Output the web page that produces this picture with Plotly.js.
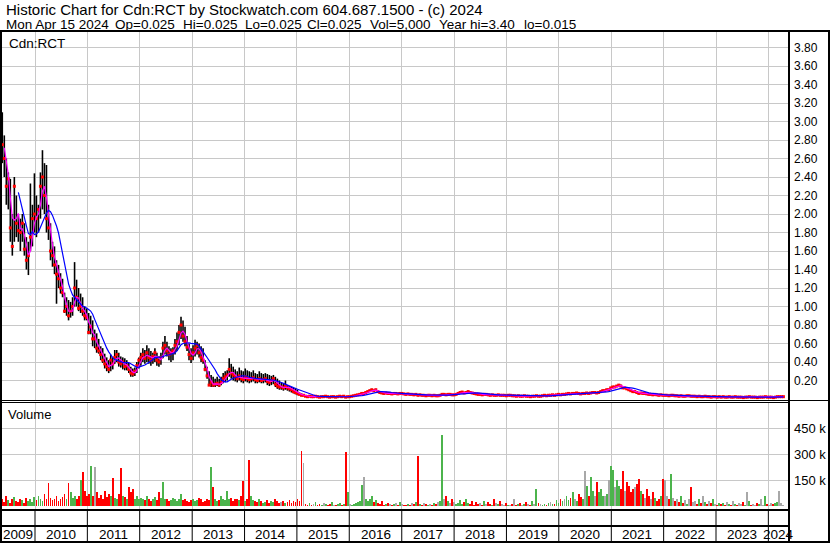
<!DOCTYPE html>
<html>
<head>
<meta charset="utf-8">
<script src="https://cdn.plot.ly/plotly-3.0.1.min.js"></script>
<style>
  html, body { margin: 0; padding: 0; background: #fff; }
  #chart { width: 830px; height: 543px; }
  #chart .barlayer path { shape-rendering: crispEdges; }
</style>
</head>
<body>
<div id="chart"></div>
<script>
// ---------- DATA (bi-weekly bars, first bar 2009-05-04, last bar 2024-04-15) ----------
const firstBar = '2009-05-04';
const years = [2009,2010,2011,2012,2013,2014,2015,2016,2017,2018,2019,2020,2021,2022,2023,2024];

const hi = [
 3.30,3.10,2.85,2.60,2.45,2.38,2.00,2.40,2.20,2.00,
 1.95,2.00,1.90,1.75,1.70,2.33,2.10,2.44,2.20,2.10,
 2.45,2.69,2.55,2.53,2.10,1.90,1.70,1.65,1.50,1.45,
 1.36,1.30,1.15,1.10,1.07,1.05,1.10,1.48,1.29,1.20,
 1.14,1.10,1.00,0.98,0.93,0.90,0.85,0.75,0.71,0.65,
 0.57,0.55,0.49,0.45,0.42,0.48,0.45,0.53,0.53,0.50,
 0.46,0.45,0.44,0.42,0.39,0.35,0.33,0.34,0.40,0.45,
 0.50,0.55,0.53,0.58,0.55,0.52,0.50,0.55,0.50,0.46,
 0.50,0.62,0.68,0.62,0.57,0.55,0.56,0.65,0.72,0.80,
 0.89,0.85,0.78,0.68,0.60,0.55,0.58,0.64,0.62,0.60,
 0.57,0.55,0.42,0.35,0.30,0.26,0.24,0.22,0.24,0.22,
 0.24,0.28,0.30,0.31,0.44,0.38,0.35,0.32,0.30,0.34,
 0.31,0.30,0.33,0.31,0.30,0.29,0.31,0.28,0.27,0.30,
 0.28,0.27,0.28,0.27,0.26,0.25,0.26,0.24,0.22,0.20,
 0.18,0.17,0.20,0.15,0.14,0.13,0.12,0.12,0.10,
 0.07,0.06,0.05,0.04,0.035,0.04,0.035,0.03,0.04,0.035,
 0.03,0.03,0.035,0.035,0.03,0.03,0.03,0.035,0.025,0.03,
 0.035,0.03,0.035,0.03,0.03,0.03,0.035,
 0.04,0.045,0.05,0.06,0.07,0.065,0.08,0.09,0.1,0.11,
 0.1,0.11,0.095,0.08,0.075,0.07,0.07,0.07,0.065,0.06,
 0.065,0.07,0.06,0.065,0.065,0.06,
 0.055,0.06,0.055,0.055,0.05,0.055,0.05,0.05,0.045,0.045,
 0.04,0.045,0.045,0.04,0.045,0.04,0.04,0.045,0.06,0.055,
 0.05,0.055,0.055,0.05,0.05,0.055,
 0.07,0.08,0.085,0.075,0.08,0.09,0.08,0.07,0.065,0.06,
 0.055,0.055,0.05,0.055,0.055,0.05,0.045,0.05,0.045,0.045,
 0.05,0.045,0.045,0.045,0.04,0.045,
 0.045,0.04,0.04,0.035,0.04,0.035,0.035,0.04,0.035,0.035,
 0.03,0.035,0.035,0.04,0.035,0.035,0.04,0.045,0.04,0.045,
 0.045,0.05,0.045,0.05,0.055,0.05,0.055,
 0.055,0.06,0.065,0.06,0.065,0.065,0.07,0.065,0.06,0.065,
 0.065,0.07,0.065,0.07,0.075,0.075,0.07,0.075,0.09,0.1,
 0.1,0.11,0.11,0.13,0.14,0.14,0.15,0.16,0.155,0.14,
 0.13,0.12,0.11,0.1,0.09,
 0.09,0.08,0.07,0.07,0.065,0.065,0.06,0.055,0.055,0.05,0.055,0.05,0.045,0.05,0.045,0.045,
 0.045,0.04,0.045,0.045,0.04,0.04,0.035,0.04,0.035,0.035,
 0.04,0.04,0.035,0.035,0.035,0.03,0.035,0.03,0.03,0.035,
 0.03,0.03,0.025,0.03,0.03,0.025,0.03,
 0.025,0.03,0.025,0.025,0.03,0.025,0.025,0.03,0.025,0.025,
 0.025,0.02,0.025,0.025,0.03,0.025,0.025,0.025,0.02,0.025,
 0.025,0.025,0.03,0.025,0.025,0.025,0.02,0.025,0.03,0.03,
 0.03,0.025
];

const lo = [
 2.72,2.55,2.40,2.10,2.05,1.70,1.55,1.70,1.75,1.70,
 1.60,1.70,1.55,1.40,1.34,1.60,1.65,1.80,1.75,1.80,
 1.95,2.05,2.00,1.80,1.72,1.50,1.43,1.35,1.03,1.20,
 1.14,1.10,0.93,0.90,0.85,0.88,0.90,1.00,1.00,0.95,
 0.93,0.90,0.85,0.85,0.70,0.70,0.57,0.55,0.50,0.49,
 0.42,0.39,0.33,0.30,0.28,0.30,0.32,0.38,0.40,0.35,
 0.34,0.32,0.31,0.31,0.28,0.24,0.24,0.25,0.28,0.33,
 0.36,0.40,0.38,0.40,0.38,0.36,0.38,0.40,0.36,0.35,
 0.37,0.44,0.48,0.46,0.42,0.40,0.42,0.48,0.52,0.58,
 0.65,0.62,0.57,0.52,0.42,0.39,0.42,0.46,0.48,0.45,
 0.40,0.38,0.30,0.22,0.15,0.13,0.13,0.13,0.14,0.13,
 0.15,0.17,0.18,0.20,0.24,0.22,0.20,0.19,0.18,0.20,
 0.18,0.17,0.19,0.18,0.17,0.18,0.19,0.17,0.17,0.18,
 0.17,0.17,0.18,0.15,0.14,0.15,0.16,0.13,0.11,0.10,
 0.10,0.09,0.10,0.09,0.08,0.07,0.06,0.05,0.04,
 0.04,0.03,0.03,0.025,0.02,0.025,0.02,0.02,0.025,0.02,
 0.015,0.02,0.02,0.025,0.02,0.015,0.02,0.02,0.015,0.02,
 0.025,0.02,0.025,0.015,0.02,0.02,0.025,
 0.03,0.035,0.04,0.045,0.05,0.055,0.06,0.07,0.08,0.09,
 0.08,0.09,0.075,0.065,0.06,0.055,0.06,0.055,0.055,0.05,
 0.055,0.055,0.05,0.055,0.055,0.05,
 0.045,0.05,0.045,0.045,0.04,0.045,0.035,0.04,0.035,0.035,
 0.03,0.035,0.035,0.03,0.035,0.03,0.03,0.035,0.04,0.045,
 0.04,0.045,0.045,0.04,0.04,0.045,
 0.05,0.06,0.065,0.06,0.065,0.07,0.065,0.06,0.055,0.05,
 0.045,0.045,0.04,0.045,0.045,0.04,0.035,0.04,0.035,0.035,
 0.04,0.035,0.035,0.035,0.03,0.035,
 0.035,0.03,0.03,0.025,0.03,0.025,0.025,0.03,0.025,0.025,
 0.02,0.025,0.025,0.03,0.025,0.025,0.03,0.035,0.03,0.035,
 0.035,0.04,0.035,0.04,0.045,0.04,0.045,
 0.045,0.05,0.055,0.05,0.055,0.055,0.06,0.055,0.05,0.055,
 0.055,0.06,0.055,0.06,0.065,0.065,0.06,0.065,0.07,0.08,
 0.08,0.09,0.09,0.1,0.12,0.12,0.13,0.14,0.13,0.11,
 0.11,0.1,0.09,0.08,0.07,
 0.07,0.06,0.055,0.06,0.055,0.055,0.05,0.045,0.045,0.04,0.045,0.04,0.035,0.04,0.035,0.035,
 0.035,0.03,0.035,0.035,0.03,0.03,0.025,0.03,0.025,0.025,
 0.03,0.03,0.025,0.025,0.025,0.02,0.025,0.02,0.02,0.025,
 0.02,0.02,0.015,0.02,0.02,0.015,0.02,
 0.015,0.02,0.015,0.015,0.02,0.015,0.015,0.02,0.015,0.015,
 0.015,0.015,0.015,0.015,0.02,0.015,0.015,0.015,0.015,0.015,
 0.015,0.015,0.02,0.015,0.015,0.015,0.015,0.015,0.02,0.02,
 0.02,0.025
];

const cl = [
 2.80,2.75,2.60,2.30,2.38,1.85,1.65,2.30,1.90,1.82,
 1.80,1.90,1.62,1.50,1.55,1.75,1.95,2.00,1.95,2.05,
 2.30,2.40,2.20,1.95,1.85,1.60,1.55,1.45,1.35,1.30,
 1.20,1.15,0.95,1.00,0.90,0.95,1.00,1.20,1.10,0.98,
 1.00,0.95,0.90,0.88,0.72,0.78,0.65,0.65,0.55,0.52,
 0.48,0.42,0.38,0.35,0.32,0.42,0.38,0.45,0.48,0.40,
 0.38,0.40,0.35,0.36,0.32,0.28,0.27,0.30,0.36,0.42,
 0.45,0.48,0.44,0.50,0.45,0.42,0.46,0.50,0.42,0.40,
 0.45,0.55,0.58,0.52,0.48,0.50,0.52,0.58,0.62,0.72,
 0.80,0.68,0.62,0.56,0.48,0.44,0.50,0.55,0.58,0.50,
 0.45,0.42,0.32,0.25,0.15,0.18,0.15,0.16,0.17,0.15,
 0.18,0.22,0.24,0.26,0.32,0.28,0.26,0.24,0.22,0.25,
 0.22,0.21,0.24,0.22,0.21,0.22,0.23,0.21,0.20,0.22,
 0.20,0.21,0.22,0.19,0.18,0.20,0.22,0.16,0.14,0.13,
 0.13,0.12,0.14,0.12,0.11,0.10,0.08,0.07,0.06,
 0.05,0.04,0.04,0.03,0.025,0.03,0.025,0.025,0.03,0.025,
 0.02,0.025,0.025,0.03,0.025,0.02,0.025,0.025,0.02,0.025,
 0.03,0.025,0.03,0.02,0.025,0.025,0.03,
 0.035,0.04,0.045,0.05,0.06,0.06,0.07,0.08,0.09,0.1,
 0.09,0.1,0.08,0.07,0.065,0.06,0.065,0.06,0.06,0.055,
 0.06,0.06,0.055,0.06,0.06,0.055,
 0.05,0.055,0.05,0.05,0.045,0.05,0.04,0.045,0.04,0.04,
 0.035,0.04,0.04,0.035,0.04,0.035,0.035,0.04,0.05,0.05,
 0.045,0.05,0.05,0.045,0.045,0.05,
 0.06,0.07,0.075,0.065,0.07,0.08,0.07,0.065,0.06,0.055,
 0.05,0.05,0.045,0.05,0.05,0.045,0.04,0.045,0.04,0.04,
 0.045,0.04,0.04,0.04,0.035,0.04,
 0.04,0.035,0.035,0.03,0.035,0.03,0.03,0.035,0.03,0.03,
 0.025,0.03,0.03,0.035,0.03,0.03,0.035,0.04,0.035,0.04,
 0.04,0.045,0.04,0.045,0.05,0.045,0.05,
 0.05,0.055,0.06,0.055,0.06,0.06,0.065,0.06,0.055,0.06,
 0.06,0.065,0.06,0.065,0.07,0.07,0.065,0.07,0.08,0.09,
 0.09,0.1,0.1,0.12,0.13,0.13,0.14,0.15,0.14,0.12,
 0.12,0.11,0.1,0.09,0.08,
 0.08,0.07,0.06,0.065,0.06,0.06,0.055,0.05,0.05,0.045,0.05,0.045,0.04,0.045,0.04,0.04,
 0.04,0.035,0.04,0.04,0.035,0.035,0.03,0.035,0.03,0.03,
 0.035,0.035,0.03,0.03,0.03,0.025,0.03,0.025,0.025,0.03,
 0.025,0.025,0.02,0.025,0.025,0.02,0.025,
 0.02,0.025,0.02,0.02,0.025,0.02,0.02,0.025,0.02,0.02,
 0.02,0.015,0.02,0.02,0.025,0.02,0.02,0.02,0.015,0.02,
 0.02,0.02,0.025,0.02,0.02,0.02,0.015,0.02,0.025,0.025,
 0.025,0.025
];

// volume in thousands of shares
const volK = [
 30,45,25,60,35,20,40,55,30,25,
 45,35,20,50,30,40,25,55,35,60,
 45,30,70,40,133,50,35,45,60,30,
 40,55,70,45,133,80,50,60,45,60,
 150,200,90,60,70,233,60,229,80,50,
 65,40,90,55,70,60,161,50,45,70,
 223,60,55,40,110,80,100,45,60,40,
 50,40,35,60,45,30,40,55,35,85,
 50,138,45,40,30,35,50,40,30,45,
 70,35,40,30,25,35,40,30,35,50,
 45,25,30,40,35,229,110,45,30,35,
 60,40,35,90,45,50,30,40,40,35,
 60,146,30,40,267,60,35,30,25,40,
 30,20,25,35,20,30,25,40,30,20,
 25,30,20,25,35,20,30,25,40,
 30,320,248,15,10,20,8,12,25,10,
 15,8,20,12,10,15,25,10,8,12,
 20,10,15,311,85,15,10,
 15,20,25,30,123,169,40,30,40,60,
 25,35,20,15,30,10,15,20,12,8,
 15,20,10,25,12,10,
 10,15,8,20,12,25,290,15,10,20,
 12,8,15,10,20,12,25,30,411,40,
 60,30,20,45,25,15,
 20,35,15,25,40,20,15,30,10,25,
 15,20,8,30,12,25,15,10,40,20,
 12,30,15,10,20,8,
 10,15,40,8,12,20,10,15,25,12,
 8,30,15,100,20,12,8,15,10,20,
 25,12,15,35,20,45,30,
 40,60,35,50,80,45,30,70,55,40,
 204,120,60,171,90,60,142,80,100,60,
 60,70,150,235,210,110,150,120,100,204,
 90,140,120,80,100,
 110,130,160,90,70,50,100,60,40,80,50,30,45,60,160,150,
 60,40,185,50,30,45,25,60,20,35,
 15,40,110,25,30,15,40,20,60,25,
 15,30,20,45,15,10,20,
 15,20,10,25,12,8,30,15,10,20,
 12,25,8,85,30,10,12,8,20,15,
 40,10,62,12,8,20,15,20,25,88,
 20,10
];

const priceTicks = [0.2,0.4,0.6,0.8,1.0,1.2,1.4,1.6,1.8,2.0,2.2,2.4,2.6,2.8,3.0,3.2,3.4,3.6,3.8];
const volTicks = [150,300,450];
const volTickText = ['150 k','300 k','450 k'];

const titleLine1 = 'Historic Chart for Cdn:RCT by Stockwatch.com 604.687.1500 - (c) 2024';
const quoteFields = ['Mon Apr 15 2024','Op=0.025','Hi=0.025','Lo=0.025','Cl=0.025','Vol=5,000','Year hi=3.40','lo=0.015'];
const symbolLabel = 'Cdn:RCT';
const volumeLabel = 'Volume';

// ---------- BUILD ----------
const N = cl.length;
if (hi.length !== N || lo.length !== N || volK.length !== N) {
  document.body.insertAdjacentHTML('afterbegin',
    '<pre>length mismatch hi=' + hi.length + ' lo=' + lo.length + ' cl=' + N + ' vol=' + volK.length + '</pre>');
}

const DAY = 864e5;
const t0 = Date.parse(firstBar + 'T00:00:00Z');
const dates = cl.map((_, i) => new Date(t0 + i * 14 * DAY).toISOString().slice(0, 10));

function movingAverage(arr, n) {
  return arr.map((_, i) => {
    if (i < n - 1) return null;
    let s = 0;
    for (let k = i - n + 1; k <= i; k++) s += arr[k];
    return s / n;
  });
}
const maFast = movingAverage(cl, 3);   // ~6 weeks
const maSlow = movingAverage(cl, 10);  // ~20 weeks

const barX = [], barY = [];
for (let i = 0; i < N; i++) {
  barX.push(dates[i], dates[i], null);
  barY.push(lo[i], hi[i], null);
}

const volColors = cl.map((c, i) => {
  if (i === 0 || c === cl[i - 1]) return '#a8a8a8';
  return c > cl[i - 1] ? '#4cb44c' : '#ff0000';
});

const W = 830, H = 543;
const px = x => x / W;
const py = y => 1 - y / H;

const xStart = '2009-05-02', xEnd = '2024-05-17';
const yearStarts = years.slice(1).map(y => y + '-01-01');

const FONT = 'Liberation Sans, Arial, sans-serif';
const GRID = '#c8c8c8';

const traces = [
  { type: 'scatter', mode: 'lines', x: barX, y: barY, xaxis: 'x', yaxis: 'y',
    line: { color: '#000000', width: 1.6 }, hoverinfo: 'skip', connectgaps: false },
  { type: 'scatter', mode: 'markers', x: dates, y: cl, xaxis: 'x', yaxis: 'y',
    marker: { symbol: 'square', size: 3, color: '#ff0000', line: { width: 0 } }, hoverinfo: 'skip' },
  { type: 'scatter', mode: 'lines', x: dates, y: maFast, xaxis: 'x', yaxis: 'y',
    line: { color: '#ff00ff', width: 1.2 }, hoverinfo: 'skip' },
  { type: 'scatter', mode: 'lines', x: dates, y: maSlow, xaxis: 'x', yaxis: 'y',
    line: { color: '#0000ff', width: 1.2 }, hoverinfo: 'skip' },
  { type: 'bar', x: dates, y: volK, xaxis: 'x2', yaxis: 'y2',
    width: 13 * DAY, marker: { color: volColors, line: { width: 0 } }, hoverinfo: 'skip' }
];

const shapes = [];
function hline(y, x0, x1, w) {
  shapes.push({ type: 'line', xref: 'paper', yref: 'paper', x0: px(x0), x1: px(x1), y0: py(y), y1: py(y),
    line: { color: '#000', width: w } });
}
function vline(x, y0, y1, w) {
  shapes.push({ type: 'line', xref: 'paper', yref: 'paper', x0: px(x), x1: px(x), y0: py(y0), y1: py(y1),
    line: { color: '#000', width: w } });
}
hline(31, 0, 830, 2);
hline(400.5, 0, 830, 1);
hline(402.5, 0, 789, 1);
hline(510, 0, 789, 2);
hline(526, 0, 789, 2);
hline(542, 0, 830, 2);
vline(1, 30, 543, 2);
vline(789, 30, 543, 2);
vline(829, 30, 543, 2);
yearStarts.forEach(d => {
  shapes.push({ type: 'line', xref: 'x', yref: 'paper', x0: d, x1: d, y0: py(510), y1: py(542),
    line: { color: '#000', width: 1 } });
});

const annotations = [
  { text: titleLine1, xref: 'paper', yref: 'paper', x: px(4), y: py(9.5), xanchor: 'left', yanchor: 'middle',
    showarrow: false, font: { family: FONT, size: 15, color: '#000' } },
  { text: symbolLabel, xref: 'paper', yref: 'paper', x: px(7), y: py(43), xanchor: 'left', yanchor: 'middle',
    showarrow: false, font: { family: FONT, size: 13.5, color: '#000' } },
  { text: volumeLabel, xref: 'paper', yref: 'paper', x: px(6), y: py(414), xanchor: 'left', yanchor: 'middle',
    showarrow: false, font: { family: FONT, size: 13, color: '#000' } }
];
// second header line: each field placed where it starts in the header
const fieldLeft = [4, 112.5, 180.5, 242.5, 304.5, 367.5, 436.5, 522];
quoteFields.forEach((t, k) => {
  annotations.push({ text: t, xref: 'paper', yref: 'paper', x: px(fieldLeft[k]), y: py(24.5),
    xanchor: 'left', yanchor: 'middle', showarrow: false,
    font: { family: FONT, size: 13.5, color: '#000' } });
});
const tS = Date.parse(xStart + 'T00:00:00Z'), tE = Date.parse(xEnd + 'T00:00:00Z');
years.forEach(y => {
  const a = Math.max(Date.UTC(y, 0, 1), tS);
  const b = Math.min(Date.UTC(y + 1, 0, 1), tE);
  const mid = new Date((a + b) / 2).toISOString().slice(0, 10);
  annotations.push({ text: String(y), xref: 'x', yref: 'paper', x: mid, y: py(534.5),
    xanchor: 'center', yanchor: 'middle', showarrow: false,
    font: { family: FONT, size: 13.5, color: '#000' } });
});

const xCommon = {
  type: 'date', range: [xStart, xEnd], domain: [0, px(788)],
  tickvals: yearStarts, showticklabels: false, ticks: '',
  showgrid: true, gridcolor: GRID, gridwidth: 1, zeroline: false, showline: false, fixedrange: true
};

const layout = {
  width: W, height: H, autosize: false,
  margin: { l: 0, r: 0, t: 0, b: 0, pad: 0 },
  paper_bgcolor: '#ffffff', plot_bgcolor: '#ffffff',
  showlegend: false, hovermode: false,
  xaxis: Object.assign({}, xCommon, { anchor: 'y' }),
  xaxis2: Object.assign({}, xCommon, { anchor: 'y2', matches: 'x' }),
  yaxis: {
    domain: [py(400), py(32)], range: [-0.0108, 3.968], side: 'right', anchor: 'x',
    tickvals: priceTicks, tickformat: '.2f', ticks: '', ticklabelstandoff: 5,
    showgrid: true, gridcolor: GRID, gridwidth: 1, zeroline: false, showline: false, fixedrange: true,
    tickfont: { family: FONT, size: 12, color: '#000' }
  },
  yaxis2: {
    domain: [py(509), py(403)], range: [-15.6, 596], side: 'right', anchor: 'x2',
    tickvals: volTicks, ticktext: volTickText, ticks: '', ticklabelstandoff: 5,
    showgrid: true, gridcolor: GRID, gridwidth: 1, zeroline: false, showline: false, fixedrange: true,
    tickfont: { family: FONT, size: 13, color: '#000' }
  },
  bargap: 0,
  shapes: shapes,
  annotations: annotations
};

Plotly.newPlot('chart', traces, layout, { staticPlot: true, displayModeBar: false });
</script>
</body>
</html>
